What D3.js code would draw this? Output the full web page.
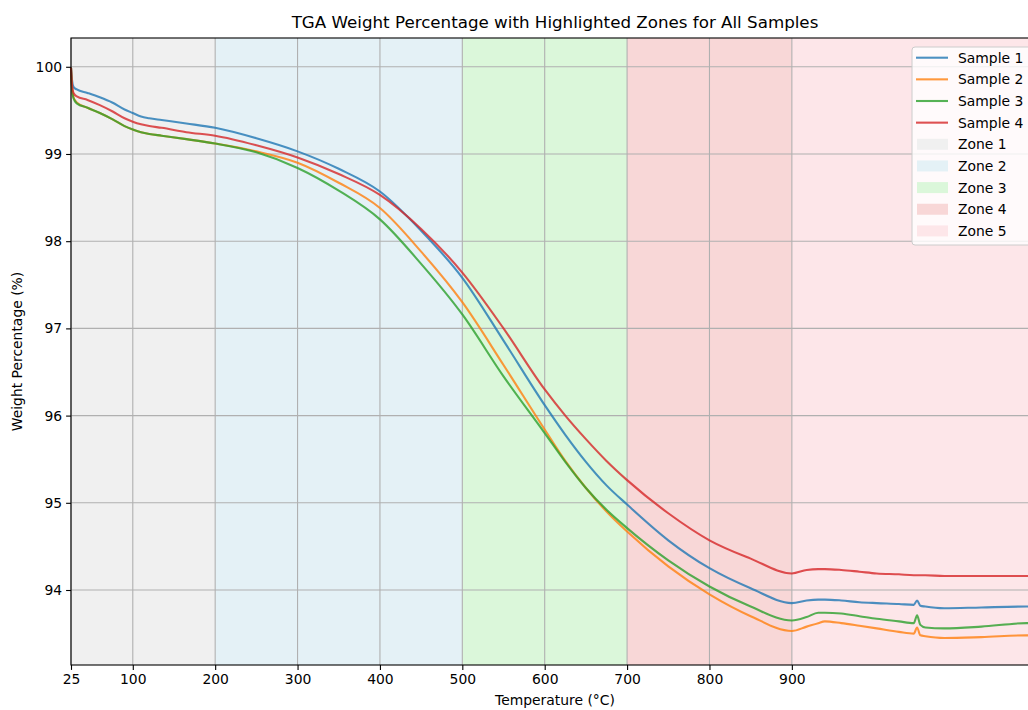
<!DOCTYPE html>
<html>
<head>
<meta charset="utf-8">
<script src="https://cdn.jsdelivr.net/npm/d3@7"></script>
<style>
  html, body { margin: 0; padding: 0; background: #ffffff; overflow: hidden; }
  svg { display: block; font-family: "DejaVu Sans", sans-serif; }
</style>
</head>
<body>
<svg id="chart" width="1028" height="710"></svg>
<script>
// Temperature grid (°C) shared by all samples
const temperature = [25, 26, 28, 32, 45, 60, 75, 90, 100, 110, 120, 135, 165, 200, 250, 300, 350, 400, 450, 500, 550, 600, 625, 650, 675,
  700, 750, 800, 850, 900, 918, 932, 940, 960, 982, 1003, 1030, 1048, 1052, 1056, 1062, 1085, 1130, 1185, 1200];

// Weight percentage for each sample
const sample1 = [99.99, 99.87, 99.77, 99.74, 99.70, 99.65, 99.59, 99.51, 99.47, 99.43, 99.41, 99.39, 99.35, 99.30, 99.18, 99.03, 98.83, 98.57, 98.12, 97.58, 96.86, 96.12, 95.78, 95.47, 95.20,
  94.98, 94.57, 94.25, 94.02, 93.85, 93.88, 93.89, 93.89, 93.88, 93.86, 93.85, 93.84, 93.83, 93.88, 93.82, 93.81, 93.79, 93.80, 93.81, 93.81];
const sample2 = [99.99, 99.79, 99.65, 99.59, 99.53, 99.47, 99.40, 99.32, 99.28, 99.25, 99.23, 99.21, 99.17, 99.12, 99.03, 98.90, 98.67, 98.38, 97.88, 97.30, 96.58, 95.84, 95.48, 95.17, 94.90,
  94.67, 94.27, 93.95, 93.70, 93.53, 93.58, 93.62, 93.64, 93.62, 93.59, 93.56, 93.52, 93.50, 93.57, 93.48, 93.47, 93.45, 93.46, 93.48, 93.48];
const sample3 = [99.99, 99.78, 99.64, 99.58, 99.53, 99.47, 99.40, 99.32, 99.28, 99.25, 99.23, 99.21, 99.17, 99.12, 99.02, 98.84, 98.58, 98.25, 97.74, 97.16, 96.45, 95.80, 95.47, 95.17, 94.92,
  94.71, 94.34, 94.04, 93.81, 93.65, 93.69, 93.74, 93.74, 93.73, 93.70, 93.67, 93.64, 93.62, 93.71, 93.60, 93.57, 93.56, 93.58, 93.62, 93.62];
const sample4 = [99.99, 99.82, 99.70, 99.66, 99.62, 99.56, 99.49, 99.41, 99.37, 99.34, 99.32, 99.30, 99.25, 99.21, 99.10, 98.96, 98.77, 98.53, 98.14, 97.64, 97.00, 96.30, 96.00, 95.73, 95.48,
  95.26, 94.88, 94.57, 94.36, 94.19, 94.23, 94.24, 94.24, 94.23, 94.21, 94.19, 94.18, 94.17, 94.17, 94.17, 94.17, 94.16, 94.16, 94.16, 94.16];

const sampleNames = ["Sample 1", "Sample 2", "Sample 3", "Sample 4"];
const sampleColors = ["#1f77b4", "#ff7f0e", "#2ca02c", "#d62728"];

// Temperature zones
const zoneNames = ["Zone 1", "Zone 2", "Zone 3", "Zone 4", "Zone 5"];
const zoneStart = [25, 200, 500, 700, 900];
const zoneEnd = [200, 500, 700, 900, 1200];
const zoneColors = ["#f0f0f0", "#e4f1f6", "#dbf7da", "#f8d7d7", "#fde6e9"];

const xTicks = [25, 100, 200, 300, 400, 500, 600, 700, 800, 900];
const yTicks = [94, 95, 96, 97, 98, 99, 100];

const margin = { left: 71, top: 38, right: 1039, bottom: 665 };

const svg = d3.select("#chart");

const x = d3.scaleLinear().domain([25, 1200]).range([margin.left, margin.right]);
const y = d3.scaleLinear().domain([93.14, 100.33]).range([margin.bottom, margin.top]);

const plot = svg.append("g");

// shaded zones
plot.selectAll("rect.zone")
  .data(zoneNames)
  .join("rect")
  .attr("class", "zone")
  .attr("x", (d, i) => x(zoneStart[i]))
  .attr("y", margin.top)
  .attr("width", (d, i) => x(zoneEnd[i]) - x(zoneStart[i]))
  .attr("height", margin.bottom - margin.top)
  .attr("fill", (d, i) => zoneColors[i]);

// grid
const grid = plot.append("g").attr("stroke", "#b0b0b0").attr("stroke-width", 1.1);
grid.selectAll("line.gx").data(xTicks).join("line")
  .attr("x1", d => x(d)).attr("x2", d => x(d))
  .attr("y1", margin.top).attr("y2", margin.bottom);
grid.selectAll("line.gy").data(yTicks).join("line")
  .attr("y1", d => y(d)).attr("y2", d => y(d))
  .attr("x1", margin.left).attr("x2", margin.right);

// sample curves
const series = [sample1, sample2, sample3, sample4];
const line = d3.line()
  .x((d, i) => x(temperature[i]))
  .y(d => y(d))
  .curve(d3.curveMonotoneX);

plot.selectAll("path.sample")
  .data(series)
  .join("path")
  .attr("class", "sample")
  .attr("d", d => line(d))
  .attr("fill", "none")
  .attr("stroke", (d, i) => sampleColors[i])
  .attr("stroke-width", 2.1)
  .attr("stroke-opacity", 0.8)
  .attr("stroke-linejoin", "round");

// axes
const xAxis = d3.axisBottom(x).tickValues(xTicks).tickSize(4.9).tickPadding(4);
const yAxis = d3.axisLeft(y).tickValues(yTicks).tickSize(4.9).tickPadding(4);

const gx = svg.append("g").attr("transform", `translate(0,${margin.bottom})`).call(xAxis);
const gy = svg.append("g").attr("transform", `translate(${margin.left},0)`).call(yAxis);
[gx, gy].forEach(g => {
  g.select(".domain").remove();
  g.selectAll(".tick line").attr("stroke", "#000").attr("stroke-width", 1.1);
  g.selectAll(".tick text").attr("fill", "#000").style("font-size", "13.9px").style("font-family", "DejaVu Sans");
});

// spines
const spines = svg.append("g").attr("stroke", "#000").attr("stroke-width", 1.1).attr("fill", "none");
spines.append("rect")
  .attr("x", margin.left).attr("y", margin.top)
  .attr("width", margin.right - margin.left).attr("height", margin.bottom - margin.top);

// title and axis labels
svg.append("text")
  .attr("x", (margin.left + margin.right) / 2).attr("y", 28)
  .attr("text-anchor", "middle").style("font-size", "16.7px").attr("fill", "#000")
  .text("TGA Weight Percentage with Highlighted Zones for All Samples");

svg.append("text")
  .attr("x", (margin.left + margin.right) / 2).attr("y", 705)
  .attr("text-anchor", "middle").style("font-size", "13.9px").attr("fill", "#000")
  .text("Temperature (°C)");

svg.append("text")
  .attr("transform", `translate(22,${(margin.top + margin.bottom) / 2}) rotate(-90)`)
  .attr("text-anchor", "middle").style("font-size", "13.9px").attr("fill", "#000")
  .text("Weight Percentage (%)");

// legend
const legend = svg.append("g").attr("transform", "translate(912,47)");
legend.append("rect")
  .attr("width", 122).attr("height", 198).attr("rx", 3)
  .attr("fill", "#ffffff").attr("fill-opacity", 0.8)
  .attr("stroke", "#cccccc").attr("stroke-width", 1);

const rowH = 21.65;
const legendItems = sampleNames.map((n, i) => ({ name: n, kind: "line", color: sampleColors[i] }))
  .concat(zoneNames.map((n, i) => ({ name: n, kind: "patch", color: zoneColors[i] })));

const rows = legend.selectAll("g.row").data(legendItems).join("g")
  .attr("class", "row")
  .attr("transform", (d, i) => `translate(0,${10.7 + i * rowH})`);

rows.filter(d => d.kind === "line").append("line")
  .attr("x1", 4).attr("x2", 36).attr("y1", 0).attr("y2", 0)
  .attr("stroke", d => d.color).attr("stroke-width", 2.1).attr("stroke-opacity", 0.8);

rows.filter(d => d.kind === "patch").append("rect")
  .attr("x", 5).attr("y", -5.5).attr("width", 31).attr("height", 11)
  .attr("fill", d => d.color);

rows.append("text")
  .attr("x", 46).attr("y", 5)
  .style("font-size", "13.9px").attr("fill", "#000")
  .text(d => d.name);
</script>
</body>
</html>
